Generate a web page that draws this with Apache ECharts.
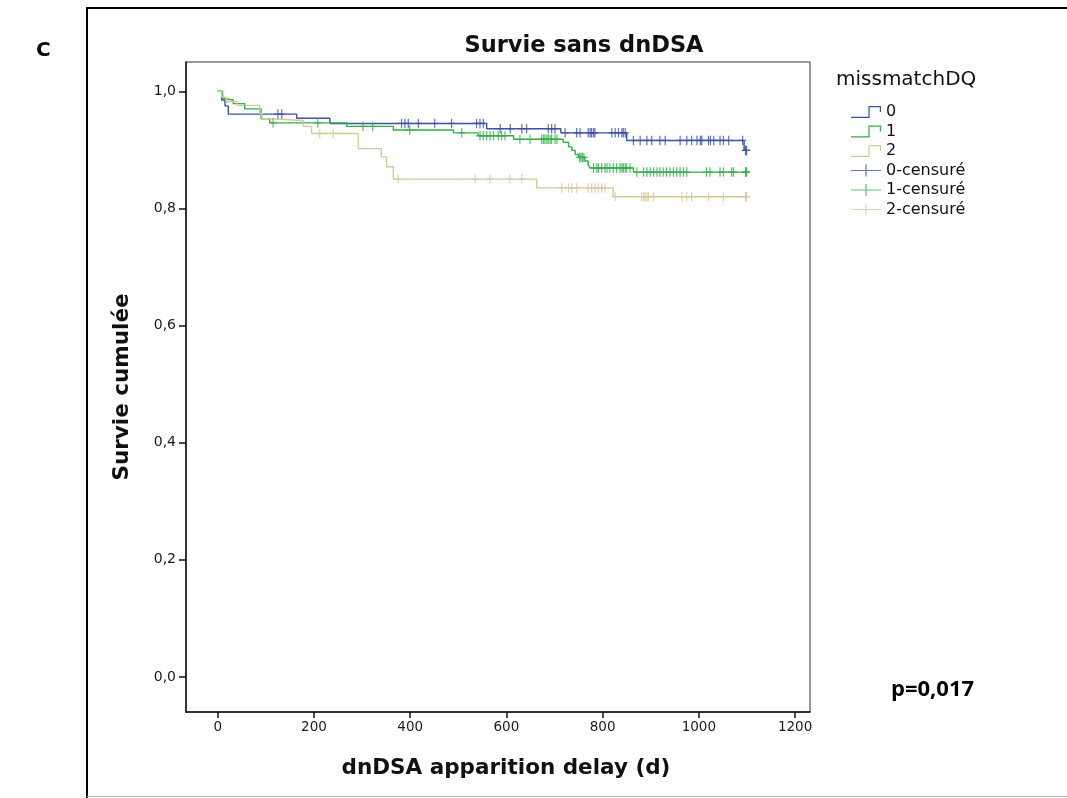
<!DOCTYPE html>
<html>
<head>
<meta charset="utf-8">
<script src="https://cdn.jsdelivr.net/npm/echarts@6/dist/echarts.min.js"></script>
<style>
  html, body { margin: 0; padding: 0; background: #ffffff; }
  #chart { width: 1067px; height: 798px; }
</style>
</head>
<body>
<div id="chart"></div>
<script>
// Kaplan-Meier estimates of dnDSA-free survival, grouped by DQ mismatch count

const groupNames = ['0', '1', '2'];
const censorNames = ['0-censuré', '1-censuré', '2-censuré'];
const groupColors = ['#3a52a8', '#31b046', '#d3cb97'];

// mismatch 0: event times (days) and survival after each event
const eventTimes0 = [0, 8, 15, 22, 164, 233, 559, 713, 850, 1094];
const survival0 = [1.0, 0.985, 0.975, 0.961, 0.954, 0.945, 0.936, 0.929, 0.916, 0.899];
const censorTimes0 = [125, 133, 382, 389, 396, 417, 451, 486, 538, 545, 552, 587, 608, 632, 642,
  687, 694, 701, 722, 746, 753, 770, 774, 777, 781, 784, 819, 826, 833, 840, 843, 847, 864, 878,
  892, 902, 919, 930, 961, 975, 985, 996, 1003, 1006, 1020, 1024, 1031, 1044, 1051, 1062, 1091,
  1097, 1098, 1099];

// mismatch 1
const eventTimes1 = [0, 10, 14, 32, 56, 90, 108, 268, 365, 490, 541, 615, 718, 729, 736, 743, 750,
  763, 770, 774, 864];
const survival1 = [1.0, 0.988, 0.985, 0.979, 0.970, 0.953, 0.946, 0.940, 0.934, 0.929, 0.924, 0.918,
  0.913, 0.905, 0.899, 0.892, 0.887, 0.881, 0.874, 0.869, 0.862];
const censorTimes1 = [115, 208, 302, 322, 399, 507, 545, 552, 559, 566, 573, 583, 590, 597, 628, 649,
  673, 677, 680, 684, 687, 691, 694, 701, 705, 752, 755, 758, 761, 781, 788, 791, 798, 805, 809,
  815, 822, 829, 836, 840, 843, 847, 850, 857, 871, 885, 892, 899, 906, 913, 919, 926, 933, 940,
  947, 954, 961, 968, 975, 1016, 1023, 1044, 1051, 1068, 1072, 1097, 1098, 1099];

// mismatch 2
const eventTimes2 = [0, 8, 18, 40, 87, 92, 108, 178, 195, 292, 340, 351, 365, 663, 822];
const survival2 = [1.0, 0.990, 0.982, 0.976, 0.962, 0.953, 0.950, 0.940, 0.928, 0.902, 0.888, 0.871,
  0.850, 0.835, 0.820];
const censorTimes2 = [212, 240, 375, 535, 566, 607, 632, 715, 729, 736, 746, 770, 777, 784, 791, 798,
  805, 826, 881, 885, 888, 892, 895, 906, 965, 975, 985, 1020, 1051, 1097, 1098, 1099];

// axis ticks
const xTicks = [0, 200, 400, 600, 800, 1000, 1200];
const yTicks = [0, 0.2, 0.4, 0.6, 0.8, 1.0];

const eventTimes = [eventTimes0, eventTimes1, eventTimes2];
const survivals = [survival0, survival1, survival2];
const censorTimes = [censorTimes0, censorTimes1, censorTimes2];

// survival level in force at time t (right-continuous step function)
function survivalAt(times, surv, t) {
  let s = surv[0];
  for (let i = 0; i < times.length; i++) {
    if (times[i] <= t) s = surv[i];
  }
  return s;
}

function curvePoints(times, surv, censors) {
  const pts = times.map((t, i) => [t, surv[i]]);
  const end = Math.max.apply(null, censors);
  pts.push([end, survivalAt(times, surv, end)]);
  return pts;
}

function censorPoints(times, surv, censors) {
  return censors.map(t => [t, survivalAt(times, surv, t)]);
}

const stepIcon = 'path://M0,10.8 L17.4,10.8 L17.4,0 L30,0 L30,6 L28.8,6 L28.8,1.2 L18.6,1.2 L18.6,12 L0,12 Z';
const crossIcon = 'path://M0,5.4 L14.4,5.4 L14.4,0 L15.6,0 L15.6,5.4 L30,5.4 L30,6.6 L15.6,6.6 L15.6,12 L14.4,12 L14.4,6.6 L0,6.6 Z';
const plusMark = 'path://M3.35,0 L4.65,0 L4.65,4.35 L8,4.35 L8,5.65 L4.65,5.65 L4.65,10 L3.35,10 L3.35,5.65 L0,5.65 L0,4.35 L3.35,4.35 Z';

const series = [];
groupNames.forEach((name, g) => {
  series.push({
    type: 'line',
    name: name,
    step: 'end',
    symbol: 'none',
    data: curvePoints(eventTimes[g], survivals[g], censorTimes[g]),
    lineStyle: { color: groupColors[g], width: 1.4 },
    itemStyle: { color: groupColors[g] },
    z: 2
  });
});
censorNames.forEach((name, g) => {
  series.push({
    type: 'scatter',
    name: name,
    symbol: plusMark,
    symbolSize: [7.5, 9.5],
    data: censorPoints(eventTimes[g], survivals[g], censorTimes[g]),
    itemStyle: { color: groupColors[g] },
    z: 3
  });
});

const labelFont = 'DejaVu Sans';
const chart = echarts.init(document.getElementById('chart'), null, { renderer: 'canvas' });

chart.setOption({
  animation: false,
  backgroundColor: '#ffffff',
  title: {
    text: 'Survie sans dnDSA',
    left: 579,
    top: 30,
    textAlign: 'center',
    textStyle: { fontFamily: labelFont, fontSize: 22.5, fontWeight: 'bold', color: '#111111' }
  },
  grid: {
    left: 186, right: 257, top: 62, bottom: 86,
    show: true, borderColor: '#333333', borderWidth: 1, backgroundColor: 'transparent'
  },
  legend: {
    orient: 'vertical',
    left: 846,
    top: 99,
    itemWidth: 30,
    itemHeight: 12,
    itemGap: 3.5,
    itemStyle: { borderWidth: 0 },
    textStyle: { fontFamily: labelFont, fontSize: 16, color: '#111111', lineHeight: 12 },
    data: [
      { name: '0', icon: stepIcon },
      { name: '1', icon: stepIcon },
      { name: '2', icon: stepIcon },
      { name: '0-censuré', icon: crossIcon },
      { name: '1-censuré', icon: crossIcon },
      { name: '2-censuré', icon: crossIcon }
    ]
  },
  xAxis: {
    type: 'value',
    min: -66,
    max: 1231,
    name: 'dnDSA apparition delay (d)',
    nameLocation: 'middle',
    nameGap: 45,
    nameTextStyle: { fontFamily: labelFont, fontSize: 21.5, fontWeight: 'bold', color: '#111111', padding: [0, 0, 0, 16] },
    axisLine: { show: true, onZero: false, lineStyle: { color: '#111111', width: 1.5 } },
    axisTick: { show: true, length: 6, customValues: xTicks, lineStyle: { color: '#111111', width: 1.5 } },
    axisLabel: {
      customValues: xTicks,
      margin: 8,
      fontFamily: labelFont,
      fontSize: 13.5,
      color: '#1a1a1a',
      formatter: v => String(v)
    },
    splitLine: { show: false }
  },
  yAxis: {
    type: 'value',
    min: -0.06,
    max: 1.05,
    name: 'Survie cumulée',
    nameLocation: 'middle',
    nameGap: 53,
    nameTextStyle: { fontFamily: labelFont, fontSize: 21.5, fontWeight: 'bold', color: '#111111' },
    axisLine: { show: true, onZero: false, lineStyle: { color: '#111111', width: 1.5 } },
    axisTick: { show: true, length: 7, customValues: yTicks, lineStyle: { color: '#111111', width: 1.5 } },
    axisLabel: {
      customValues: yTicks,
      margin: 10,
      fontFamily: labelFont,
      fontSize: 14,
      color: '#1a1a1a',
      formatter: v => v.toFixed(1).replace('.', ',')
    },
    splitLine: { show: false }
  },
  graphic: [
    { type: 'line', shape: { x1: 87, y1: 8, x2: 87, y2: 798 }, style: { stroke: '#000000', lineWidth: 2 } },
    { type: 'line', shape: { x1: 86, y1: 8, x2: 1067, y2: 8 }, style: { stroke: '#000000', lineWidth: 2 } },
    { type: 'line', shape: { x1: 87, y1: 796.5, x2: 1067, y2: 796.5 }, style: { stroke: '#b5b5b5', lineWidth: 1 } },
    {
      type: 'text', left: 36, top: 41,
      style: { text: 'C', fontFamily: labelFont, fontSize: 20, fontWeight: 'bold', fill: '#000000' }
    },
    {
      type: 'text', left: 836, top: 70,
      style: { text: 'missmatchDQ', fontFamily: labelFont, fontSize: 20, fill: '#111111' }
    },
    {
      type: 'text', left: 891, top: 679,
      style: { text: 'p=0,017', fontFamily: 'Open Sans', fontSize: 22, fontWeight: 'bold', fill: '#000000' }
    }
  ],
  series: series
});
</script>
</body>
</html>
